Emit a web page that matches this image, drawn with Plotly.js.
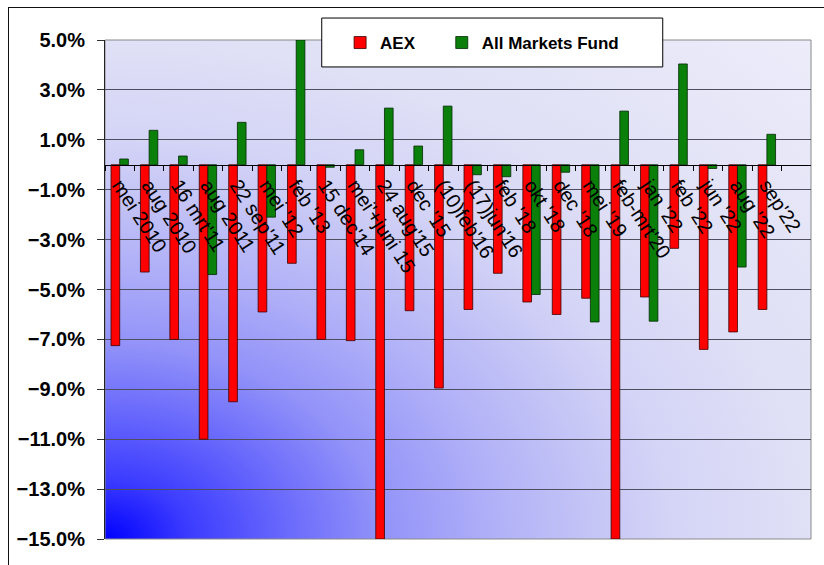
<!DOCTYPE html>
<html>
<head>
<meta charset="utf-8">
<script src="https://cdn.plot.ly/plotly-3.0.1.min.js"></script>
<style>
  html, body { margin: 0; padding: 0; background: #fff; }
  #bg { position: absolute; left: 105px; top: 40px; width: 706px; height: 499px;
        background: radial-gradient(706px 499px at 0% 100%, #0000ff 0%, #3c3cff 12%, #6a6afc 26%,
                    #9292f9 39%, #b0b0f8 55%, #c6c6f6 70%, #d4d4f7 80%, #e0e0f6 100%, #ececfa 141%); }
  #chart { position: absolute; left: 0; top: 0; width: 824px; height: 565px; }
  #frame { position: absolute; left: 8px; top: 7px; width: 840px; height: 600px;
           border-top: 1px solid #111; border-left: 1px solid #111; pointer-events: none; }
</style>
</head>
<body>
<div id="bg"></div>
<div id="chart"></div>
<div id="frame"></div>
<script>
// ---- data (percent) ----
const categories = ["mei 2010","aug 2010","16 mrt'11","aug 2011","22 sep'11","mei '12","feb '13",
  "15 dec'14","mei'+juni 15","24 aug'15","dec '15","(10)feb'16","(17)jun'16","feb '18","okt '18",
  "dec '18","mei '19","feb-mrt'20","jan '22","feb '22","jun '22","aug '22","sep'22"];
const aexValues = [-7.25,-4.3,-7.0,-11.0,-9.5,-5.9,-3.95,-7.0,-7.05,-15.0,-5.85,-8.95,-5.8,-4.35,
  -5.5,-6.0,-5.35,-15.0,-5.3,-3.35,-7.4,-6.7,-5.8];
const amfValues = [0.23,1.38,0.35,-4.4,1.7,-2.1,5.0,-0.1,0.6,2.27,0.75,2.35,-0.4,-0.48,
  -5.2,-0.3,-6.3,2.15,-6.27,4.04,-0.15,-4.1,1.22];
const seriesNames = ["AEX", "All Markets Fund"];
const yTickStart = -15, yTickStep = 2, yMin = -15, yMax = 5;

const FONT = "Liberation Sans, Arial, sans-serif";

const traces = [
  { type: "bar", name: seriesNames[0], x: categories, y: aexValues, legend: "legend",
    marker: { color: "#ff0000", line: { color: "#3a0000", width: 0.8 } }, cliponaxis: true },
  { type: "bar", name: seriesNames[1], x: categories, y: amfValues, legend: "legend2",
    marker: { color: "#0a800a", line: { color: "#002800", width: 0.8 } }, cliponaxis: true }
];

const legendCommon = {
  orientation: "h", xanchor: "left", y: 0.994, yanchor: "middle",
  bgcolor: "rgba(0,0,0,0)", borderwidth: 0, itemwidth: 30,
  font: { family: FONT, size: 17, weight: 700, color: "#000" }
};

const layout = {
  width: 824, height: 565,
  margin: { l: 105, r: 13, t: 40, b: 26 },
  paper_bgcolor: "rgba(0,0,0,0)",
  plot_bgcolor: "rgba(0,0,0,0)",
  font: { family: FONT, color: "#000" },
  barmode: "group", bargap: 0.41, bargroupgap: 0,
  showlegend: true,
  legend: Object.assign({}, legendCommon, { x: 0.333 }),
  legend2: Object.assign({}, legendCommon, { x: 0.477 }),
  xaxis: {
    type: "category", categoryorder: "array", categoryarray: categories,
    range: [-0.5, categories.length + 0.5],
    anchor: "free", position: (0 - yMin) / (yMax - yMin),
    showline: true, linecolor: "#000", linewidth: 1,
    ticks: "outside", ticklen: 5, tickcolor: "#000", tickwidth: 1, tickson: "boundaries",
    tickangle: 57, tickfont: { family: FONT, size: 20, color: "#000" },
    showgrid: false, zeroline: false, fixedrange: true
  },
  yaxis: {
    range: [yMin, yMax], tick0: yTickStart, dtick: yTickStep,
    tickformat: ".1f", ticksuffix: "%",
    showgrid: true, gridcolor: "#4e4e5e", gridwidth: 1, zeroline: false,
    showline: true, linecolor: "#222", linewidth: 1,
    ticks: "outside", ticklen: 7, tickcolor: "#333", ticklabelstandoff: 8,
    tickfont: { family: FONT, size: 20, weight: 700, color: "#000" },
    fixedrange: true
  },
  shapes: [
    { type: "rect", xref: "paper", yref: "paper", x0: 0, x1: 1, y0: 0, y1: 1,
      line: { color: "#8a8a8a", width: 1 }, fillcolor: "rgba(0,0,0,0)", layer: "below" },
    { type: "rect", xref: "paper", yref: "paper", x0: 0.307, x1: 0.790, y0: 0.946, y1: 1.044,
      line: { color: "#000", width: 1 }, fillcolor: "#ffffff", layer: "above" }
  ]
};

Plotly.newPlot("chart", traces, layout, { displayModeBar: false, staticPlot: true });
</script>
</body>
</html>
